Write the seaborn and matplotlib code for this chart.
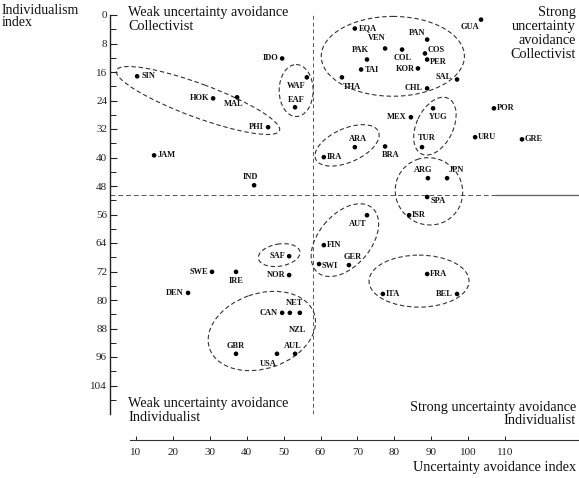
import matplotlib
matplotlib.use("Agg")
import matplotlib.pyplot as plt
from matplotlib.patches import Ellipse
import pandas as pd
import seaborn as sns

# Country codes, uncertainty avoidance index (x) and individualism index (y)
codes = ["SIN", "HOK", "MAL", "PHI", "JAM", "IDO", "WAF", "EAF", "IND", "THA",
         "EQA", "PAN", "VEN", "PAK", "COL", "COS", "PER", "TAI", "KOR", "SAL",
         "CHL", "GUA", "MEX", "YUG", "TUR", "POR", "URU", "GRE", "ARA", "IRA",
         "BRA", "ARG", "JPN", "SPA", "ISR", "AUT", "FIN", "SWI", "GER", "FRA",
         "ITA", "BEL", "SAF", "NOR", "SWE", "IRE", "DEN", "CAN", "NZL", "NET",
         "GBR", "USA", "AUL"]
uai = [10.3, 30.9, 37.4, 45.8, 14.9, 49.6, 56.3, 53.1, 42.0, 65.8,
       69.3, 88.9, 77.5, 72.6, 82.1, 88.3, 88.9, 71.0, 86.4, 97.0,
       88.9, 103.5, 84.5, 90.5, 87.5, 107.0, 101.9, 114.6, 69.3, 60.9,
       77.5, 89.1, 94.3, 88.9, 84.0, 72.6, 60.9, 59.6, 67.7, 88.9,
       76.9, 97.0, 51.5, 51.5, 30.6, 37.1, 24.1, 49.6, 51.7, 54.4,
       37.1, 48.2, 53.1]
idv = [17.2, 23.4, 23.1, 31.5, 39.4, 12.2, 17.5, 25.9, 47.8, 17.5,
       3.8, 6.9, 9.4, 12.5, 9.7, 10.8, 12.5, 15.3, 15.0, 18.1,
       20.6, 1.3, 28.7, 26.2, 37.1, 26.2, 34.3, 34.9, 37.1, 39.9,
       36.9, 45.8, 45.8, 51.1, 56.2, 56.2, 64.6, 69.9, 70.2, 72.7,
       78.3, 78.3, 67.7, 73.0, 72.1, 72.1, 78.0, 83.6, 83.6, 83.6,
       95.1, 95.1, 95.1]

y_ticks = list(range(0, 105, 8))
x_ticks = list(range(10, 111, 10))

# Quadrant dividers
uai_split = 58.0
idv_split = 50.5

# Label placement per country: (dx px, dy px downward, alignment)
label_pos = {
    "SIN": (4, 0, "left"), "HOK": (-4, 0, "right"), "MAL": (-3, 7, "center"),
    "PHI": (-4, 0, "right"), "JAM": (4, 0, "left"), "IDO": (-4, 0, "right"),
    "WAF": (-1, 9, "right"), "EAF": (1, -7, "center"), "IND": (-4, -8, "center"),
    "THA": (10, 10, "center"), "EQA": (4, 0, "left"), "PAN": (-10, -7, "center"),
    "VEN": (-8, -10, "center"), "PAK": (-7, -10, "center"), "COL": (1, 8, "center"),
    "COS": (3, -3, "left"), "PER": (3, 2, "left"), "TAI": (4, 0, "left"),
    "KOR": (-3, 1, "right"), "SAL": (-5, -2, "right"), "CHL": (-4, 0, "right"),
    "GUA": (-11, 7, "center"), "MEX": (-4, 0, "right"), "YUG": (5, 9, "center"),
    "TUR": (5, -9, "center"), "POR": (3, 0, "left"), "URU": (3, 0, "left"),
    "GRE": (3, 0, "left"), "ARA": (3, -8, "center"), "IRA": (3, 0, "left"),
    "BRA": (6, 9, "center"), "ARG": (-5, -8, "center"), "JPN": (9, -8, "center"),
    "SPA": (3, 4, "left"), "ISR": (3, 0, "left"), "AUT": (-9, 9, "center"),
    "FIN": (3, 0, "left"), "SWI": (3, 2, "left"), "GER": (4, -8, "center"),
    "FRA": (3, 0, "left"), "ITA": (3, 0, "left"), "BEL": (-4, 0, "right"),
    "SAF": (-4, 0, "right"), "NOR": (-4, 0, "right"), "SWE": (-4, 0, "right"),
    "IRE": (0, 9, "center"), "DEN": (-4, 0, "right"), "CAN": (-4, 0, "right"),
    "NZL": (8, 17, "center"), "NET": (-5, -10, "center"), "GBR": (0, -8, "center"),
    "USA": (-9, 10, "center"), "AUL": (-2, -8, "center"),
}

# Hand-drawn cluster outlines: (centre x, centre y, width, height, angle)
outlines = [
    (26.8, 24.0, 47.3, 9.4, 21),
    (53.4, 21.2, 9.2, 14.6, 0),
    (79.6, 11.6, 38.8, 22.4, 0),
    (91.0, 31.2, 17.2, 10.0, -66),
    (67.2, 36.6, 18.7, 9.4, -25),
    (89.4, 49.5, 18.2, 19.0, -20),
    (66.6, 63.2, 23.4, 14.3, -52),
    (48.8, 67.4, 11.4, 6.2, -10),
    (86.7, 74.7, 27.1, 14.6, 0),
    (44.1, 88.7, 30.0, 21.0, -20),
]

sns.set_theme(style="white")
plt.rcParams["font.family"] = ["Liberation Serif", "DejaVu Serif"]

W, H = 579, 478
fig = plt.figure(figsize=(W / 100, H / 100), dpi=100)


def fx(px):
    return px / W


def fy(py):
    return 1 - py / H


# Main plotting area: left spine only
ax = fig.add_axes([fx(110), fy(414), fx(W - 110), (414 - 15) / H])
ax.set_xlim(2.95, 130.05)
ax.set_ylim(112, 0)

df = pd.DataFrame({"code": codes, "uai": uai, "idv": idv})
sns.scatterplot(data=df, x="uai", y="idv", ax=ax, color="black", s=11,
                edgecolor="none", legend=False, zorder=3)

for c, x, y in zip(codes, uai, idv):
    dx, dy, ha = label_pos[c]
    ax.annotate(c, (x, y), xytext=(dx, -dy), textcoords="offset pixels",
                ha=ha, va="center", fontsize=6, fontweight="bold", color="#111111")

for cx, cy, w, h, a in outlines:
    ax.add_patch(Ellipse((cx, cy), w, h, angle=a, fill=False, edgecolor="#333333",
                         linewidth=0.8, linestyle=(0, (4, 2.5)), zorder=2))

ax.axvline(uai_split, color="#555555", linewidth=0.7, linestyle=(0, (4, 3)), zorder=1)
ax.axhline(idv_split, xmax=(107.5 - 2.95) / (130.05 - 2.95), color="#555555",
           linewidth=0.7, linestyle=(0, (5, 3)), zorder=1)
ax.axhline(idv_split, xmin=(107.5 - 2.95) / (130.05 - 2.95), color="#666666",
           linewidth=1.0, zorder=1)

for side in ["top", "right", "bottom"]:
    ax.spines[side].set_visible(False)
ax.spines["left"].set_color("#222222")
ax.spines["left"].set_linewidth(1.0)
ax.set_xticks([])
ax.set_yticks(y_ticks)
ax.set_yticklabels([str(t) for t in y_ticks])
ax.set_yticks(list(range(4, 112, 8)), minor=True)
ax.tick_params(axis="y", which="major", direction="in", length=5, width=0.8,
               labelsize=8, pad=2, left=True, colors="#222222")
ax.tick_params(axis="y", which="minor", direction="in", length=4, width=0.7,
               left=True, colors="#222222")
ax.set_xlabel("")
ax.set_ylabel("")
ax.patch.set_alpha(0)

# Detached horizontal axis beneath the plot
axx = fig.add_axes([fx(130), fy(440), fx(W - 130), 0.02])
axx.set_xlim(8.37, 130.05)
axx.set_ylim(0, 1)
for side in ["top", "right", "left"]:
    axx.spines[side].set_visible(False)
axx.spines["bottom"].set_color("#333333")
axx.spines["bottom"].set_linewidth(0.8)
axx.set_yticks([])
axx.set_xticks(x_ticks)
axx.set_xticklabels([str(t) for t in x_ticks])
axx.tick_params(axis="x", direction="in", length=3, width=0.7, labelsize=8,
                pad=6, bottom=True, colors="#222222")
axx.patch.set_alpha(0)

txt = dict(color="#111111", fontsize=10.3)
fig.text(fx(2), fy(4), "Individualism\nindex", ha="left", va="top",
         fontsize=10, color="#111111", linespacing=0.85)
fig.text(fx(128), fy(6), "Weak uncertainty avoidance\nCollectivist", ha="left",
         va="top", linespacing=1.1, **txt)
fig.text(fx(576), fy(6), "Strong\nuncertainty\navoidance\nCollectivist", ha="right",
         va="top", linespacing=1.1, **txt)
fig.text(fx(128), fy(397), "Weak uncertainty avoidance\nIndividualist", ha="left",
         va="top", linespacing=1.1, **txt)
fig.text(fx(576), fy(401), "Strong uncertainty avoidance\nIndividualist", ha="right",
         va="top", linespacing=1.05, **txt)
fig.text(fx(576), fy(468), "Uncertainty avoidance index", ha="right", va="center",
         **txt)

fig.savefig("out.png", dpi=100)
